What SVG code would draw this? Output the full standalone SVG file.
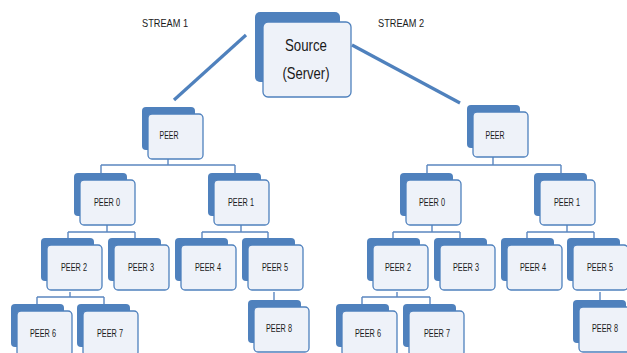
<svg xmlns="http://www.w3.org/2000/svg" width="627" height="353" viewBox="0 0 627 353">
  <style>
    .back { fill: #4f81bd; }
    .front { fill: #eef2f9; stroke: #4f81bd; stroke-width: 1.3; }
    .lbl { font-family: "Liberation Sans", Arial, sans-serif; font-size: 11px; fill: #1a1a1a; text-anchor: middle; }
    .big { font-family: "Liberation Sans", Arial, sans-serif; font-size: 17px; fill: #1a1a1a; text-anchor: middle; }
    .stream { font-family: "Liberation Sans", Arial, sans-serif; font-size: 11.5px; fill: #1a1a1a; }
    .tree { fill: none; stroke: #5b87c0; stroke-width: 1.4; }
    .feed { stroke: #4f81bd; stroke-width: 3.2; }
  </style>
  <rect width="627" height="353" fill="#ffffff"/>

  <text class="stream" x="142" y="27" textLength="46" lengthAdjust="spacingAndGlyphs">STREAM 1</text>
  <text class="stream" x="378" y="27" textLength="46" lengthAdjust="spacingAndGlyphs">STREAM 2</text>

  <g id="connectors">
    <line class="feed" x1="246" y1="35" x2="174" y2="100"/>
    <line class="feed" x1="352" y1="45" x2="460" y2="103"/>
    <!-- left tree -->
    <path class="tree" d="M168 158 V165 M101 165 H235 M101 165 V173 M235 165 V173"/>
    <path class="tree" d="M107 224 V232 M68 232 H135 M68 232 V238 M135 232 V238"/>
    <path class="tree" d="M241 224 V232 M202 232 H268 M202 232 V238 M268 232 V238"/>
    <path class="tree" d="M70 292 V297 M37 297 H104 M37 297 V304 M104 297 V304"/>
    <path class="tree" d="M274 292 V300"/>
    <!-- right tree -->
    <path class="tree" d="M493 157 V165 M427 165 H561 M427 165 V173 M561 165 V173"/>
    <path class="tree" d="M432 224 V232 M393 232 H460 M393 232 V238 M460 232 V238"/>
    <path class="tree" d="M567 224 V232 M527 232 H594 M527 232 V238 M594 232 V238"/>
    <path class="tree" d="M397 292 V297 M362 297 H430 M362 297 V304 M430 297 V304"/>
    <path class="tree" d="M600 292 V300"/>
  </g>

  <g id="source">
    <rect class="back" x="255" y="12" width="85" height="70" rx="5"/>
    <rect class="front" x="263" y="22" width="88" height="75" rx="5"/>
    <text class="big" x="306" y="51" textLength="42" lengthAdjust="spacingAndGlyphs">Source</text>
    <text class="big" x="306" y="79" textLength="47" lengthAdjust="spacingAndGlyphs">(Server)</text>
  </g>

  <defs>
    <g id="box">
      <rect class="back" x="0" y="0" width="53" height="43" rx="4"/>
      <rect class="front" x="6" y="7" width="55" height="45" rx="4"/>
    </g>
  </defs>

  <!-- stream 1 tree -->
  <g id="s1-peer" transform="translate(142,107)"><use href="#box"/><text class="lbl" x="27" y="32" textLength="19" lengthAdjust="spacingAndGlyphs">PEER</text></g>
  <g id="s1-peer0" transform="translate(74,173)"><use href="#box"/><text class="lbl" x="33" y="33" textLength="26" lengthAdjust="spacingAndGlyphs">PEER 0</text></g>
  <g id="s1-peer1" transform="translate(208,173)"><use href="#box"/><text class="lbl" x="33" y="33" textLength="26" lengthAdjust="spacingAndGlyphs">PEER 1</text></g>
  <g id="s1-peer2" transform="translate(41,238)"><use href="#box"/><text class="lbl" x="33" y="33" textLength="26" lengthAdjust="spacingAndGlyphs">PEER 2</text></g>
  <g id="s1-peer3" transform="translate(108,238)"><use href="#box"/><text class="lbl" x="33" y="33" textLength="26" lengthAdjust="spacingAndGlyphs">PEER 3</text></g>
  <g id="s1-peer4" transform="translate(175,238)"><use href="#box"/><text class="lbl" x="33" y="33" textLength="26" lengthAdjust="spacingAndGlyphs">PEER 4</text></g>
  <g id="s1-peer5" transform="translate(242,238)"><use href="#box"/><text class="lbl" x="33" y="33" textLength="26" lengthAdjust="spacingAndGlyphs">PEER 5</text></g>
  <g id="s1-peer6" transform="translate(11,304)"><use href="#box"/><text class="lbl" x="32" y="33" textLength="26" lengthAdjust="spacingAndGlyphs">PEER 6</text></g>
  <g id="s1-peer7" transform="translate(77,304)"><use href="#box"/><text class="lbl" x="33" y="33" textLength="26" lengthAdjust="spacingAndGlyphs">PEER 7</text></g>
  <g id="s1-peer8" transform="translate(248,300)"><use href="#box"/><text class="lbl" x="31" y="32" textLength="26" lengthAdjust="spacingAndGlyphs">PEER 8</text></g>

  <!-- stream 2 tree -->
  <g id="s2-peer" transform="translate(467,105)"><use href="#box"/><text class="lbl" x="28" y="34" textLength="19" lengthAdjust="spacingAndGlyphs">PEER</text></g>
  <g id="s2-peer0" transform="translate(400,173)"><use href="#box"/><text class="lbl" x="32" y="33" textLength="26" lengthAdjust="spacingAndGlyphs">PEER 0</text></g>
  <g id="s2-peer1" transform="translate(534,173)"><use href="#box"/><text class="lbl" x="33" y="33" textLength="26" lengthAdjust="spacingAndGlyphs">PEER 1</text></g>
  <g id="s2-peer2" transform="translate(367,238)"><use href="#box"/><text class="lbl" x="31" y="33" textLength="26" lengthAdjust="spacingAndGlyphs">PEER 2</text></g>
  <g id="s2-peer3" transform="translate(434,238)"><use href="#box"/><text class="lbl" x="32" y="33" textLength="26" lengthAdjust="spacingAndGlyphs">PEER 3</text></g>
  <g id="s2-peer4" transform="translate(501,238)"><use href="#box"/><text class="lbl" x="32" y="33" textLength="26" lengthAdjust="spacingAndGlyphs">PEER 4</text></g>
  <g id="s2-peer5" transform="translate(567,238)"><use href="#box"/><text class="lbl" x="33" y="33" textLength="26" lengthAdjust="spacingAndGlyphs">PEER 5</text></g>
  <g id="s2-peer6" transform="translate(336,304)"><use href="#box"/><text class="lbl" x="32" y="33" textLength="26" lengthAdjust="spacingAndGlyphs">PEER 6</text></g>
  <g id="s2-peer7" transform="translate(403,304)"><use href="#box"/><text class="lbl" x="34" y="33" textLength="26" lengthAdjust="spacingAndGlyphs">PEER 7</text></g>
  <g id="s2-peer8" transform="translate(573,300)"><use href="#box"/><text class="lbl" x="32" y="32" textLength="26" lengthAdjust="spacingAndGlyphs">PEER 8</text></g>
</svg>
